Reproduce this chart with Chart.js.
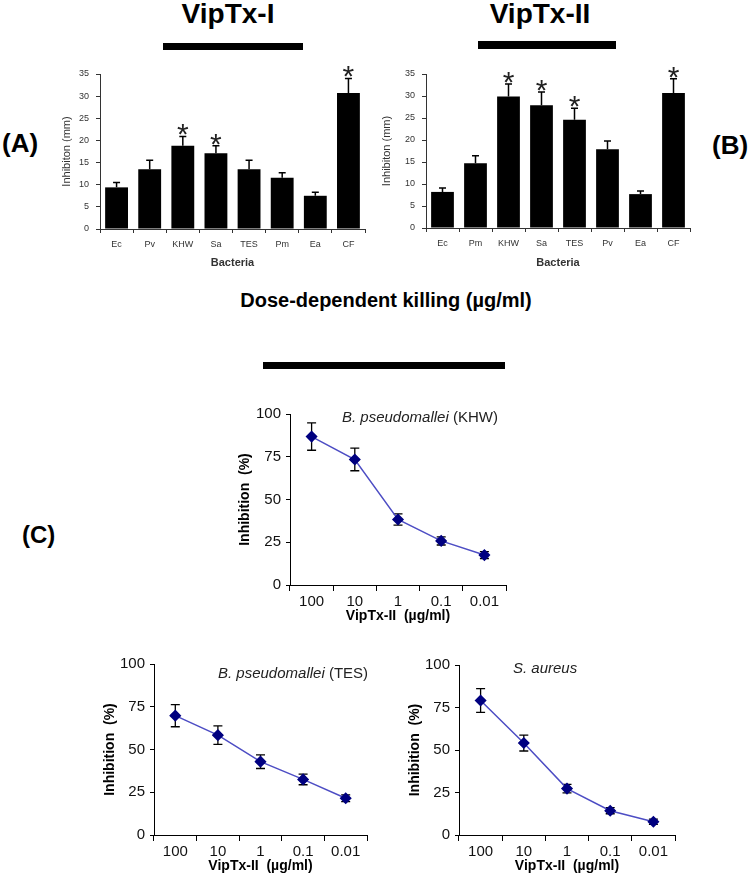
<!DOCTYPE html>
<html>
<head>
<meta charset="utf-8">
<script src="https://cdn.jsdelivr.net/npm/chart.js@4.4.1/dist/chart.umd.min.js"></script>
<style>
body{margin:0;background:#fff;}
#fig{position:relative;width:752px;height:876px;overflow:hidden;font-family:"Liberation Sans",Arial,sans-serif;color:#000;background:#fff;}
canvas{position:absolute;}
.head{position:absolute;font-weight:bold;line-height:1;white-space:nowrap;transform:translateX(-50%);}
.rule{position:absolute;background:#000;}
.tag{position:absolute;font-weight:bold;line-height:1;white-space:nowrap;}
.note{position:absolute;font-size:15px;line-height:1;color:#222;white-space:nowrap;}
</style>
</head>
<body>
<div id="fig">
  <div class="head" style="left:228px;top:0px;font-size:28px;">VipTx-I</div>
  <div class="rule" style="left:163px;top:43px;width:140px;height:7px;"></div>
  <div class="head" style="left:540px;top:0px;font-size:28px;">VipTx-II</div>
  <div class="rule" style="left:478px;top:41px;width:138px;height:8px;"></div>

  <div class="tag" style="left:2px;top:130px;font-size:26px;">(A)</div>
  <div class="tag" style="left:712px;top:132px;font-size:26px;">(B)</div>
  <div class="tag" style="left:22px;top:523px;font-size:24px;">(C)</div>

  <div class="head" style="left:386px;top:290px;font-size:20px;">Dose-dependent killing (µg/ml)</div>
  <div class="rule" style="left:263px;top:362px;width:242px;height:7px;"></div>

  <canvas id="chartA" width="319" height="220" style="left:56px;top:60px;"></canvas>
  <canvas id="chartB" width="324" height="220" style="left:376px;top:60px;"></canvas>
  <canvas id="chartKHW" width="281" height="225" style="left:235px;top:400px;"></canvas>
  <canvas id="chartTES" width="277" height="225" style="left:100px;top:650px;"></canvas>
  <canvas id="chartSa" width="280" height="224" style="left:405px;top:651px;"></canvas>

  <div class="note" style="left:342px;top:409px;"><i>B. pseudomallei</i> (KHW)</div>
  <div class="note" style="left:218px;top:665px;"><i>B. pseudomallei</i> (TES)</div>
  <div class="note" style="left:513px;top:660px;"><i>S. aureus</i></div>
</div>
<script>
// panel A - VipTx-I
var bacteriaA = ['Ec', 'Pv', 'KHW', 'Sa', 'TES', 'Pm', 'Ea', 'CF'];
var inhibA = [9.4, 13.5, 18.8, 17.1, 13.5, 11.6, 7.5, 30.7];
var errA = [1.1, 2.0, 2.1, 1.7, 2.0, 1.1, 0.8, 3.3];
var starA = [false, false, true, true, false, false, false, true];

// panel B - VipTx-II
var bacteriaB = ['Ec', 'Pm', 'KHW', 'Sa', 'TES', 'Pv', 'Ea', 'CF'];
var inhibB = [8.2, 14.7, 29.9, 27.9, 24.6, 17.9, 7.7, 30.7];
var errB = [0.9, 1.7, 2.8, 3.0, 2.6, 1.9, 0.7, 3.2];
var starB = [false, false, true, true, true, false, false, true];

// panel C - dose response
var doses = ['100', '10', '1', '0.1', '0.01'];
var killKHW = [86.8, 73.4, 38.3, 25.8, 17.5];
var errKHW = [8.0, 6.6, 3.3, 2.4, 2.0];
var killTES = [69.8, 58.4, 42.9, 32.5, 21.5];
var errTES = [6.5, 5.4, 4.0, 3.1, 2.0];
var killSa = [79.1, 54.1, 27.3, 14.3, 7.8];
var errSa = [7.0, 4.7, 2.5, 1.8, 1.5];

Chart.defaults.font.family = '"Liberation Sans", Arial, sans-serif';
Chart.defaults.color = '#222';
Chart.defaults.animation = false;
Chart.defaults.plugins.legend.display = false;
Chart.defaults.plugins.tooltip.enabled = false;

function drawErrors(chart){
  var ctx = chart.ctx;
  var ds = chart.data.datasets[0];
  var meta = chart.getDatasetMeta(0);
  var ys = chart.scales.y;
  var isBar = chart.config.type === 'bar';
  var cap = isBar ? 3.5 : 4.5;
  ctx.save();
  ctx.strokeStyle = '#000';
  ctx.lineWidth = isBar ? 1.5 : 1.3;
  meta.data.forEach(function(pt, i){
    var v = ds.data[i], e = ds.errors[i];
    var top = ys.getPixelForValue(v + e);
    var bot = isBar ? ys.getPixelForValue(v) : ys.getPixelForValue(v - e);
    ctx.beginPath();
    ctx.moveTo(pt.x, bot); ctx.lineTo(pt.x, top);
    ctx.moveTo(pt.x - cap, top); ctx.lineTo(pt.x + cap, top);
    if(!isBar){ ctx.moveTo(pt.x - cap, bot); ctx.lineTo(pt.x + cap, bot); }
    ctx.stroke();
    if(ds.stars && ds.stars[i]){
      ctx.fillStyle = '#222';
      ctx.font = '30px "Liberation Sans", Arial';
      ctx.textAlign = 'center';
      ctx.textBaseline = 'alphabetic';
      ctx.fillText('*', pt.x, top + 8);
    }
  });
  ctx.restore();
}

var errorBars = {
  id: 'errorBars',
  beforeDatasetsDraw: function(chart){ if(chart.config.type === 'line') drawErrors(chart); },
  afterDatasetsDraw: function(chart){ if(chart.config.type === 'bar') drawErrors(chart); }
};

function barChart(id, labels, values, errs, stars, yWidth, xHeight){
  return new Chart(document.getElementById(id), {
    type: 'bar',
    data: {
      labels: labels,
      datasets: [{
        data: values, errors: errs, stars: stars,
        backgroundColor: '#000', barPercentage: 0.69, categoryPercentage: 1
      }]
    },
    options: {
      responsive: false,
      layout: {padding: {top: 14, right: 10, left: 0, bottom: 0}},
      scales: {
        x: {
          grid: {drawOnChartArea: false, tickLength: 4, color: '#333'},
          border: {color: '#333'},
          ticks: {font: {size: 9}, padding: 6, color: '#333'},
          title: {display: true, text: 'Bacteria', font: {size: 11, weight: 'bold'}, padding: {top: 0, bottom: 10}, color: '#333'},
          afterFit: function(s){ s.height = xHeight; }
        },
        y: {
          min: 0, max: 35,
          ticks: {stepSize: 5, font: {size: 9}, padding: 7, color: '#333'},
          grid: {drawOnChartArea: false, tickLength: 4, color: '#333'},
          border: {color: '#333'},
          title: {display: true, text: 'Inhibiton (mm)', font: {size: 11}, padding: {top: 4, bottom: 0}, color: '#333'},
          afterFit: function(s){ s.width = yWidth; }
        }
      }
    },
    plugins: [errorBars]
  });
}

function doseChart(id, values, errs, yWidth, xHeight){
  return new Chart(document.getElementById(id), {
    type: 'line',
    data: {
      labels: doses,
      datasets: [{
        data: values, errors: errs,
        borderColor: '#4d4dc4', borderWidth: 1.5, tension: 0,
        pointStyle: 'rectRot', pointRadius: 5,
        pointBackgroundColor: '#000080', pointBorderColor: '#000080'
      }]
    },
    options: {
      responsive: false,
      layout: {padding: {top: 13, right: 10, left: 0, bottom: 0}},
      scales: {
        x: {
          offset: true,
          grid: {offset: true, drawOnChartArea: false, tickLength: 6, color: '#000'},
          border: {color: '#000'},
          ticks: {font: {size: 15}, padding: 2, color: '#111'},
          title: {display: true, text: 'VipTx-II  (µg/ml)', font: {size: 14, weight: 'bold'}, padding: 0, color: '#000'},
          afterFit: function(s){ s.height = xHeight; }
        },
        y: {
          min: 0, max: 100,
          ticks: {stepSize: 25, font: {size: 15}, padding: 5, color: '#111'},
          grid: {drawOnChartArea: false, tickLength: 4, color: '#000'},
          border: {color: '#000'},
          title: {display: true, text: 'Inhibition  (%)', font: {size: 14, weight: 'bold'}, padding: {top: 2, bottom: 0}, color: '#000'},
          afterFit: function(s){ s.width = yWidth; }
        }
      }
    },
    plugins: [errorBars]
  });
}

barChart('chartA', bacteriaA, inhibA, errA, starA, 44, 51);
barChart('chartB', bacteriaB, inhibB, errB, starB, 50, 52);
doseChart('chartKHW', killKHW, errKHW, 55, 40);
doseChart('chartTES', killTES, errTES, 54, 40);
doseChart('chartSa', killSa, errSa, 54, 40);
</script>
</body>
</html>
